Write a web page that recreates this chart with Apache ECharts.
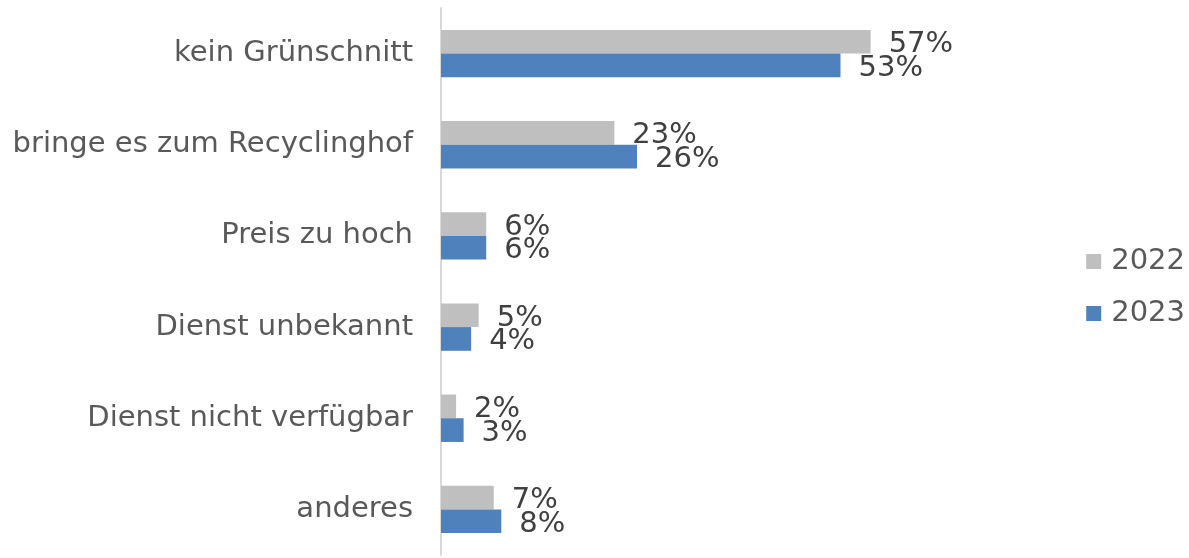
<!DOCTYPE html>
<html>
<head>
<meta charset="utf-8">
<script src="https://cdn.jsdelivr.net/npm/echarts@6/dist/echarts.min.js"></script>
<style>
  html, body { margin: 0; padding: 0; background: #fff; }
  #chart { width: 1189px; height: 558px; }
</style>
</head>
<body>
<div id="chart"></div>
<script>
// categories listed bottom to top (ECharts category y axis starts at bottom)
const categories = ["anderes", "Dienst nicht verfügbar", "Dienst unbekannt", "Preis zu hoch", "bringe es zum Recyclinghof", "kein Grünschnitt"];
const values2022 = [7, 2, 5, 6, 23, 57];
const values2023 = [8, 3, 4, 6, 26, 53];
const seriesNames = ["2022", "2023"];

const chart = echarts.init(document.getElementById("chart"));
const font = "'DejaVu Sans', Verdana, sans-serif";

let label = {
    show: true,
    position: "right",
    distance: 18,
    offset: [0, 3],
    formatter: "{c}%",
    color: "#404040",
    fontSize: 29,
    fontFamily: font,
};

chart.setOption({
    animation: false,
    grid: {
        left: 441,
        right: 145,
        top: 8,
        bottom: 3,
        containLabel: false,
    },
    legend: {
        orient: "vertical",
        right: 0,
        top: 242,
        padding: [5, 4, 5, 5],
        itemWidth: 15,
        itemHeight: 15,
        itemGap: 23,
        icon: "rect",
        data: seriesNames,
        textStyle: { color: "#595959", fontSize: 29, fontFamily: font, padding: [0, 0, 0, 5] },
    },
    xAxis: {
        type: "value",
        min: 0,
        max: 80,
        show: false,
    },
    yAxis: {
        type: "category",
        data: categories,
        axisLine: { lineStyle: { color: "#D9D9D9", width: 2 } },
        axisTick: { show: false },
        axisLabel: {
            color: "#595959",
            fontSize: 29,
            fontFamily: font,
            margin: 28,
        },
    },
    series: [
        {
            name: seriesNames[0],
            type: "bar",
            data: values2022,
            itemStyle: { color: "#BFBFBF" },
            barGap: "0%",
            barCategoryGap: "48%",
            label: label,
        },
        {
            name: seriesNames[1],
            type: "bar",
            data: values2023,
            itemStyle: { color: "#4F81BD" },
            label: label,
        },
    ],
});
</script>
</body>
</html>
